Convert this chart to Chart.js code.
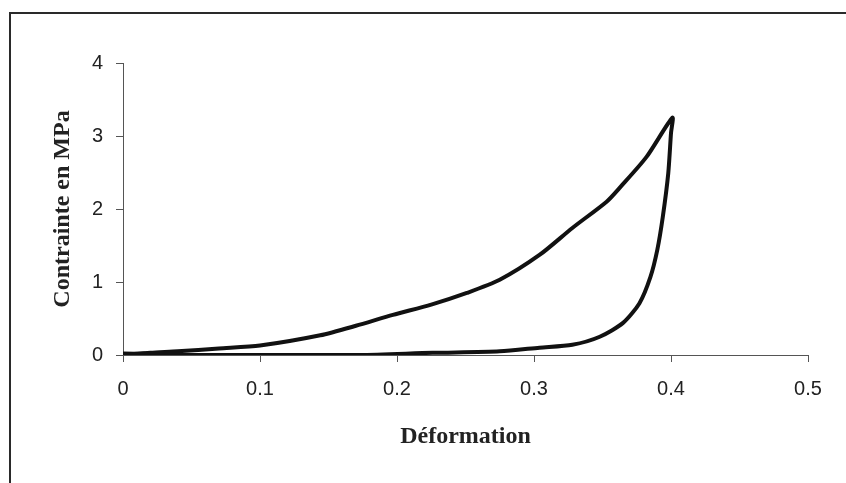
<!DOCTYPE html>
<html>
<head>
<meta charset="utf-8">
<script src="https://cdn.jsdelivr.net/npm/chart.js@4"></script>
<style>
  html, body { margin: 0; padding: 0; background: #fff; }
  #wrap { position: relative; width: 846px; height: 483px; overflow: hidden; }
  #frame {
    position: absolute; left: 9px; top: 12px; width: 900px; height: 600px;
    border-top: 2px solid #2a2a2a; border-left: 2px solid #2a2a2a;
  }
  canvas { position: absolute; left: 0; top: 0; }
</style>
</head>
<body>
<div id="wrap">
  <div id="frame"></div>
  <canvas id="loop-chart" width="846" height="483"></canvas>
</div>
<script>
// loading branch then unloading branch (strain, stress in MPa)
const strain = [
  0, 0.02, 0.04, 0.07, 0.1, 0.144, 0.17, 0.197, 0.225, 0.251, 0.275, 0.304,
  0.328, 0.353, 0.363, 0.382, 0.401,
  0.4, 0.398, 0.394, 0.39, 0.385, 0.377, 0.365, 0.348, 0.328, 0.304, 0.275,
  0.226, 0.173, 0.105, 0.05, 0
];
const stress = [
  0, 0.03, 0.05, 0.09, 0.13, 0.27, 0.4, 0.55, 0.69, 0.85, 1.03, 1.37,
  1.74, 2.1, 2.3, 2.71, 3.25,
  3.04, 2.49, 1.89, 1.44, 1.07, 0.71, 0.44, 0.25, 0.14, 0.1, 0.05,
  0.03, 0, 0, 0, 0.02
];
const xTicks = [0, 0.1, 0.2, 0.3, 0.4, 0.5];
const yTicks = [0, 1, 2, 3, 4];

const tickFont = { family: "'Liberation Sans', Arial, sans-serif", size: 20 };
const titleFont = { family: "'Liberation Serif', 'Times New Roman', serif", size: 24, weight: "bold" };

const ctx = document.getElementById("loop-chart").getContext("2d");

new Chart(ctx, {
  type: "scatter",
  data: {
    datasets: [
      {
        label: "Contrainte",
        data: strain.map((s, i) => ({ x: s, y: stress[i] })),
        showLine: true,
        borderColor: "#111",
        borderWidth: 4,
        pointRadius: 0,
        tension: 0.25,
        fill: false
      }
    ]
  },
  options: {
    responsive: false,
    animation: false,
    layout: { padding: { top: 63, right: 38, bottom: 0, left: 0 } },
    plugins: {
      legend: { display: false },
      tooltip: { enabled: false }
    },
    scales: {
      x: {
        type: "linear",
        min: 0,
        max: 0.5,
        afterFit: (scale) => { scale.height = 128; },
        afterBuildTicks: (scale) => { scale.ticks = xTicks.map((v) => ({ value: v })); },
        ticks: {
          color: "#222",
          font: tickFont,
          padding: 15,
          maxRotation: 0,
          callback: (v) => String(v)
        },
        grid: { drawOnChartArea: false, drawTicks: true, tickLength: 7, color: "#555" },
        border: { display: true, color: "#555", width: 1 },
        title: {
          display: true,
          text: "Déformation",
          color: "#222",
          font: titleFont,
          padding: { top: 32, bottom: 32 }
        }
      },
      y: {
        type: "linear",
        min: 0,
        max: 4,
        afterFit: (scale) => { scale.width = 123; },
        afterBuildTicks: (scale) => { scale.ticks = yTicks.map((v) => ({ value: v })); },
        ticks: {
          color: "#222",
          font: tickFont,
          padding: 13,
          callback: (v) => String(v)
        },
        grid: { drawOnChartArea: false, drawTicks: true, tickLength: 7, color: "#555" },
        border: { display: true, color: "#555", width: 1 },
        title: {
          display: true,
          text: "Contrainte en MPa",
          color: "#222",
          font: titleFont,
          padding: { top: 48, bottom: 48 }
        }
      }
    }
  }
});
</script>
</body>
</html>
